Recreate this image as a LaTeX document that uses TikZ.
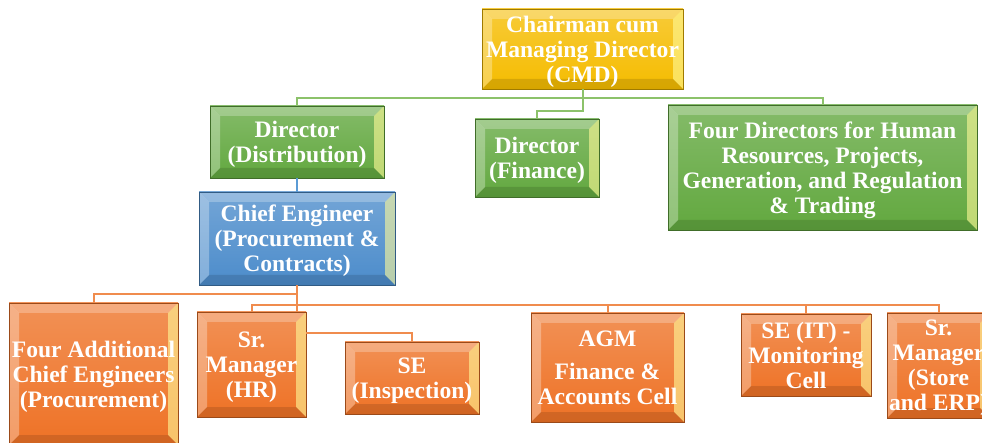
\documentclass[tikz,border=0pt]{standalone}
\usepackage{fontspec}
\setmainfont{Liberation Serif}
\usepackage{xcolor}
\usepackage{tikz}
\usetikzlibrary{calc}

\definecolor{cmdyellow}{HTML}{F5BC00}
\definecolor{dirgreen}{HTML}{62A83F}
\definecolor{ceblue}{HTML}{4C8CCB}
\definecolor{unitorange}{HTML}{EE7226}
\definecolor{linegreen}{HTML}{8CC26A}
\definecolor{lineblue}{HTML}{5B9BD5}
\definecolor{lineorange}{HTML}{F08C4E}

\tikzset{
  bevel/.style={path picture={
    \coordinate (pnw) at (path picture bounding box.north west);
    \coordinate (pne) at (path picture bounding box.north east);
    \coordinate (pse) at (path picture bounding box.south east);
    \coordinate (psw) at (path picture bounding box.south west);
    \fill[white,opacity=.25] (pnw) -- (pne) -- ($(pne)+(-10pt,-10pt)$) -- ($(pnw)+(10pt,-10pt)$) -- cycle;
    \fill[white,opacity=.3] (pnw) -- ($(pnw)+(10pt,-10pt)$) -- ($(psw)+(10pt,10pt)$) -- (psw) -- cycle;
    \fill[yellow!40!white,opacity=.6] (pne) -- ($(pne)+(-10pt,-10pt)$) -- ($(pse)+(-10pt,10pt)$) -- (pse) -- cycle;
    \fill[black,opacity=.12] (psw) -- ($(psw)+(10pt,10pt)$) -- ($(pse)+(-10pt,10pt)$) -- (pse) -- cycle;
  }},
  post/.style={draw=#1!65!black, line width=.6pt, top color=#1!78!white, bottom color=#1, bevel,
    text=white, font=\bfseries\fontsize{23.6}{25}\selectfont, align=center, inner sep=0pt, text depth=0pt},
  gline/.style={draw=linegreen, line width=2pt},
  bline/.style={draw=lineblue, line width=2pt},
  oline/.style={draw=lineorange, line width=2pt}
}

\begin{document}
\begin{tikzpicture}[x=1pt,y=-1pt]
\path[use as bounding box, clip] (0,0) rectangle (982,443);

\node[post=cmdyellow, minimum width=201pt, minimum height=80pt] (cmd) at (582.5,49) {Chairman cum\\Managing Director\\(CMD)};
\node[post=dirgreen, minimum width=174pt, minimum height=72pt] (dist) at (297,142) {Director\\(Distribution)};
\node[post=dirgreen, minimum width=124pt, minimum height=78pt] (fin) at (537,158) {Director\\(Finance)};
\node[post=dirgreen, minimum width=309pt, minimum height=125pt] (fourdir) at (822.5,167.5) {Four Directors for Human\\Resources, Projects,\\Generation, and Regulation\\\& Trading};
\node[post=ceblue, minimum width=196pt, minimum height=93pt] (ce) at (297,238.5) {Chief Engineer\\(Procurement \&\\Contracts)};

\node[post=unitorange, minimum width=169pt, minimum height=142pt] (addl) at (93.5,374) {Four Additional\\Chief Engineers\\(Procurement)};
\node[post=unitorange, minimum width=109pt, minimum height=105pt] (hr) at (251.5,364.5) {Sr.\\Manager\\(HR)};
\node[post=unitorange, minimum width=134pt, minimum height=72pt] (insp) at (412,378) {SE\\(Inspection)};
\node[post=unitorange, minimum width=153pt, minimum height=109pt] (agm) at (607.5,367.5) {AGM\\[8pt]Finance \&\\Accounts Cell};
\node[post=unitorange, minimum width=130pt, minimum height=82pt] (seit) at (806,355) {SE (IT) -\\Monitoring\\Cell};
\node[post=unitorange, minimum width=103pt, minimum height=105pt] (store) at (938.5,365.5) {Sr.\\Manager\\(Store\\and ERP)};

\coordinate (gbus) at (582.5,98);
\draw[gline] (cmd.south) -- (gbus) -| (dist.north);
\draw[gline] (gbus) -| (fourdir.north);
\draw[gline] (gbus) -- ++(0,13) -| (fin.north);
\draw[bline] (dist.south) -- (ce.north);

\coordinate (obusl) at (297,294);
\coordinate (obusr) at (297,305);
\draw[oline] (ce.south) -- (hr.north -| ce.south);
\draw[oline] (obusl) -| (addl.north);
\draw[oline] (obusr) -| (hr.north);
\draw[oline] (obusr) -| (agm.north);
\draw[oline] (obusr) -| (seit.north);
\draw[oline] (obusr) -| (store.north);
\draw[oline] ($(hr.north east)+(0,21)$) -| (insp.north);

\end{tikzpicture}
\end{document}
